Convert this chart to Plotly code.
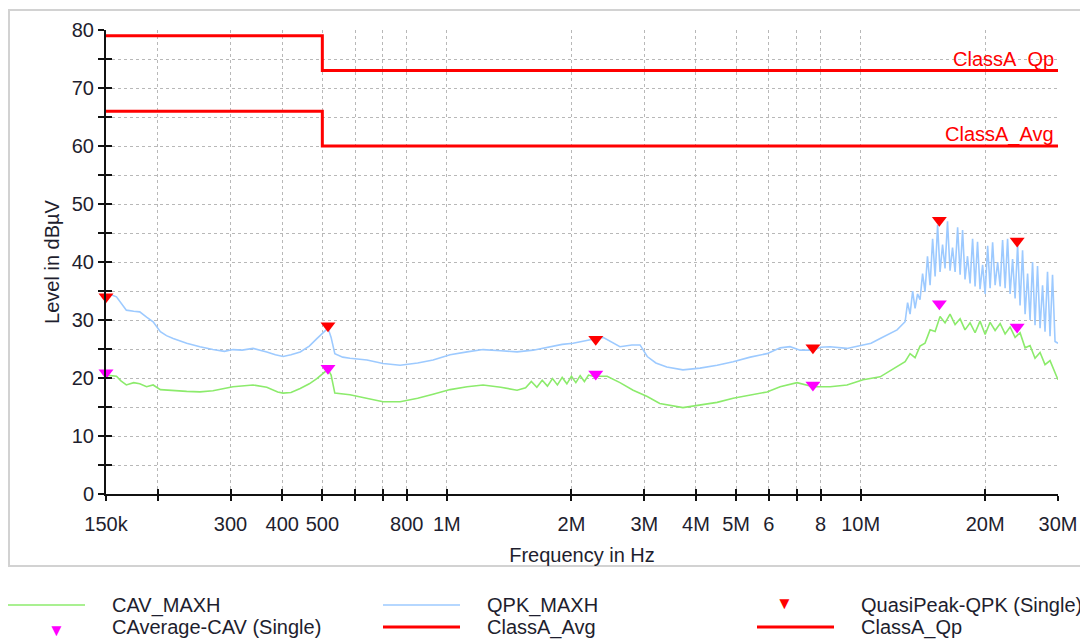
import plotly.graph_objects as go

# ---------------- data (frequencies in MHz, levels in dBµV) ----------------
qpk_freq = [0.150, 0.155, 0.159, 0.163, 0.168, 0.175, 0.181, 0.188, 0.195, 0.203,
            0.210, 0.218, 0.235, 0.253, 0.272, 0.290, 0.304, 0.320, 0.340, 0.367,
            0.385, 0.402, 0.420, 0.442, 0.465, 0.485, 0.507, 0.516, 0.525, 0.536,
            0.560, 0.583, 0.641, 0.701, 0.771, 0.850, 0.926, 1.018, 1.119, 1.223,
            1.350, 1.478, 1.616, 1.776, 1.900, 2.018, 2.181, 2.300, 2.385, 2.500,
            2.620, 2.800, 2.930, 3.050, 3.200, 3.400, 3.720, 4.090, 4.500, 4.920,
            5.410, 5.940, 6.390, 6.750, 7.140, 7.680, 8.000, 8.440, 9.270, 10.14,
            10.60, 11.15, 11.70, 12.25,
            12.81, 12.99, 13.17, 13.36, 13.54, 13.73, 13.92, 14.12, 14.31, 14.51,
            14.72, 14.93, 15.14, 15.35, 15.56, 15.78, 16.00, 16.22, 16.45, 16.68,
            16.92, 17.16, 17.40, 17.64, 17.88, 18.13, 18.39, 18.65, 18.91, 19.17,
            19.44, 19.72, 20.00, 20.28, 20.56, 20.85, 21.14, 21.44, 21.74, 22.04,
            22.35, 22.66, 22.98, 23.30, 23.63, 23.96, 24.29, 24.63, 24.98, 25.33,
            25.68, 26.04, 26.40, 26.77, 27.15, 27.53, 27.91, 28.30, 28.70, 29.10,
            29.51, 30.00]
qpk_level = [34.0, 34.3, 34.0, 33.0, 31.7, 31.5, 31.4, 30.5, 29.7, 28.0,
             27.3, 26.8, 26.0, 25.4, 24.9, 24.6, 24.9, 24.8, 25.1, 24.5,
             24.0, 23.7, 24.0, 24.5, 25.5, 26.8, 28.2, 28.6, 27.0, 24.2,
             23.6, 23.4, 23.1, 22.5, 22.2, 22.6, 23.1, 24.0, 24.5, 24.9,
             24.7, 24.5, 24.8, 25.4, 25.8, 26.0, 26.4, 26.8, 27.0, 26.2,
             25.4, 25.7, 25.7, 23.7, 22.6, 21.9, 21.4, 21.7, 22.2, 22.8,
             23.6, 24.2, 25.2, 25.4, 24.8, 24.8, 25.3, 25.4, 25.1, 25.7,
             26.0, 26.8, 27.5, 28.3,
             29.7, 33.0, 31.0, 35.0, 32.0, 34.5, 33.5, 38.0, 34.9, 41.0,
             36.0, 44.0, 37.5, 46.4, 38.3, 43.0, 38.9, 47.0, 38.5, 42.5,
             38.3, 46.0, 37.8, 45.5, 37.0, 41.0, 36.3, 44.0, 35.8, 43.5,
             35.3, 39.5, 34.5, 42.8, 35.5, 43.4, 36.0, 40.0, 35.8, 43.8,
             35.5, 44.0, 34.5, 40.5, 33.7, 43.0, 32.5, 42.0, 31.0, 38.0,
             30.0, 40.0, 29.1, 39.3, 28.6, 36.0, 28.0, 38.3, 27.2, 37.8,
             26.3, 26.0]

cav_freq = [0.150, 0.159, 0.163, 0.168, 0.175, 0.181, 0.188, 0.195, 0.203, 0.218,
            0.235, 0.253, 0.272, 0.304, 0.340, 0.367, 0.390, 0.402, 0.420, 0.442,
            0.465, 0.485, 0.507, 0.516, 0.525, 0.536, 0.583, 0.641, 0.701, 0.771,
            0.850, 0.926, 1.018, 1.119, 1.223, 1.350, 1.478,
            1.55, 1.60, 1.65, 1.70, 1.75, 1.80, 1.85, 1.90, 1.95, 2.00,
            2.05, 2.10, 2.15, 2.20,
            2.256, 2.440, 2.620, 2.820, 3.050, 3.270, 3.720, 4.090, 4.500, 4.920,
            5.410, 5.940, 6.390, 7.020, 7.680, 8.440, 9.270, 10.14, 11.15, 12.25,
            12.81, 13.17, 13.54, 13.92, 14.31, 14.72, 15.14, 15.56, 16.00, 16.45,
            16.92, 17.40, 17.88, 18.39, 18.91, 19.44, 20.00, 20.56, 21.14, 21.74,
            22.35, 22.98, 23.63, 24.29, 24.98, 25.68, 26.40, 27.15, 27.91, 28.70,
            29.51, 30.00]
cav_level = [20.5, 20.3, 19.5, 18.8, 19.2, 19.0, 18.5, 18.8, 18.0, 17.8,
             17.7, 17.6, 17.8, 18.5, 18.8, 18.4, 17.6, 17.4, 17.5, 18.2,
             19.0, 19.9, 21.0, 21.5, 20.5, 17.4, 17.1, 16.5, 15.9, 15.9,
             16.5, 17.2, 18.0, 18.5, 18.8, 18.4, 17.9,
             18.3, 19.4, 18.4, 19.6, 18.6, 19.9, 18.8, 20.1, 19.0, 20.3,
             19.2, 20.4, 19.4, 20.5,
             20.3, 20.3, 19.2, 17.9, 16.8, 15.6, 14.9, 15.3, 15.8, 16.5,
             17.0, 17.6, 18.5, 19.2, 18.5, 18.5, 18.8, 19.7, 20.2, 21.9,
             22.8, 24.2, 23.5, 25.5, 26.0, 28.3, 28.0, 30.6, 29.5, 31.0,
             29.2, 30.2, 28.3, 29.5, 27.8, 29.8, 27.5, 29.6, 28.2, 29.4,
             27.6, 28.8, 27.0, 27.8, 25.2, 25.6, 23.4, 24.4, 22.3, 23.0,
             20.8, 19.7]

qp_mark_freq = [0.150, 0.516, 2.29, 7.67, 15.5, 23.9]
qp_mark_level = [34.0, 29.0, 26.7, 25.2, 47.2, 43.6]
cav_mark_freq = [0.150, 0.516, 2.29, 7.67, 15.5, 23.9]
cav_mark_level = [20.9, 21.7, 20.7, 18.8, 32.8, 28.8]

limit_freq = [0.15, 0.5, 0.5, 30.0]
limit_qp = [79, 79, 73, 73]
limit_avg = [66, 66, 60, 60]

x_tick_mhz = [0.15, 0.2, 0.3, 0.4, 0.5, 0.6, 0.7, 0.8, 1, 2, 3, 4, 5, 6, 7, 8, 10, 20, 30]
x_tick_text = ["150k", "", "300", "400", "500", "", "", "800", "1M", "2M", "3M",
               "4M", "5M", "6", "", "8", "10M", "20M", "30M"]
y_tick_vals = list(range(0, 81, 5))
y_tick_text = [str(v) if v % 10 == 0 else "" for v in y_tick_vals]

# ---------------- styling ----------------
FONT = "Liberation Sans, Arial, sans-serif"
GREEN = "#8ceb6c"
BLUE = "#9dcaff"
RED = "#ff0000"
MAGENTA = "#ff00ff"
TXT = "#1e1e2e"
# page offset (browser body margin) is 8px
W, H = 1080, 636
ML, MT = 98, 22
PW, PH = 952, 464
MR, MB = W - ML - PW, H - MT - PH
PL, PB = 106, 494  # plot left / bottom on the page


def px(x):
    return (x - PL) / PW


def py(y):
    return (PB - y) / PH


hz = lambda arr: [v * 1e6 for v in arr]

fig = go.Figure()
fig.add_trace(go.Scatter(x=hz(cav_freq), y=cav_level, mode="lines",
                         line=dict(color=GREEN, width=1.6), name="CAV_MAXH"))
fig.add_trace(go.Scatter(x=hz(qpk_freq), y=qpk_level, mode="lines",
                         line=dict(color=BLUE, width=1.6), name="QPK_MAXH"))
fig.add_trace(go.Scatter(x=hz(limit_freq), y=limit_avg, mode="lines",
                         line=dict(color=RED, width=3), name="ClassA_Avg"))
fig.add_trace(go.Scatter(x=hz(limit_freq), y=limit_qp, mode="lines",
                         line=dict(color=RED, width=3), name="ClassA_Qp"))
fig.add_trace(go.Scatter(x=hz(qp_mark_freq), y=qp_mark_level, mode="markers",
                         marker=dict(symbol="triangle-down", size=13, color=RED),
                         name="QuasiPeak-QPK (Single)", cliponaxis=False))
fig.add_trace(go.Scatter(x=hz(cav_mark_freq), y=cav_mark_level, mode="markers",
                         marker=dict(symbol="triangle-down", size=13, color=MAGENTA),
                         name="CAverage-CAV (Single)", cliponaxis=False))
# helper axes for ticks crossing the axis lines
fig.add_trace(go.Scatter(x=[], y=[], xaxis="x2", yaxis="y2", showlegend=False))

xrange = [5.176091259, 7.477121255]
grid = dict(showgrid=True, gridcolor="#b8b8b8", gridwidth=1, griddash="3px,3px")
fig.update_layout(
    width=W, height=H,
    margin=dict(l=ML, r=MR, t=MT, b=MB),
    paper_bgcolor="white", plot_bgcolor="white",
    showlegend=False,
    font=dict(family=FONT, size=20, color=TXT),
    xaxis=dict(type="log", range=xrange, tickvals=hz(x_tick_mhz), ticktext=x_tick_text,
               ticks="outside", ticklen=5, tickwidth=1.5, tickcolor="#111",
               showline=True, linecolor="#111", linewidth=2, zeroline=False,
               ticklabelstandoff=6,
               title=dict(text="Frequency in Hz", standoff=14, font=dict(size=20)),
               **grid),
    yaxis=dict(range=[0, 80], tickvals=y_tick_vals, ticktext=y_tick_text,
               ticks="outside", ticklen=6, tickwidth=1.5, tickcolor="#111",
               showline=True, linecolor="#111", linewidth=2, zeroline=False,
               title=dict(text="Level in dBµV", standoff=7, font=dict(size=20)),
               **grid),
    xaxis2=dict(type="log", range=xrange, overlaying="x", side="bottom", anchor="y2",
                tickvals=hz(x_tick_mhz), showticklabels=False, ticks="inside", ticklen=5,
                tickwidth=1.5, tickcolor="#111", showgrid=False, zeroline=False, showline=False),
    yaxis2=dict(range=[0, 80], overlaying="y", side="left", anchor="x2",
                tickvals=y_tick_vals, showticklabels=False, ticks="inside", ticklen=6,
                tickwidth=1.5, tickcolor="#111", showgrid=False, zeroline=False, showline=False),
)

# outer frame
fig.add_shape(type="rect", xref="paper", yref="paper", x0=px(9), x1=px(1085),
              y0=py(566), y1=py(10), line=dict(color="#d2d2d2", width=2), layer="below")

# limit labels
fig.add_annotation(x=1, xref="paper", y=73, yref="y", text="ClassA_Qp", showarrow=False,
                   xanchor="right", yanchor="bottom", xshift=-2, yshift=-2,
                   font=dict(color=RED, size=20))
fig.add_annotation(x=1, xref="paper", y=60, yref="y", text="ClassA_Avg", showarrow=False,
                   xanchor="right", yanchor="bottom", xshift=-2, yshift=-2,
                   font=dict(color=RED, size=20))

# legend (manual, 3 columns x 2 rows), positions in page pixels
legend_items = [
    ("line", GREEN, 1.5, 8, 605, "CAV_MAXH", 0),
    ("line", BLUE, 1.5, 383, 605, "QPK_MAXH", 0),
    ("tri", RED, 0, 757, 605, "QuasiPeak-QPK (Single)", 10),
    ("tri", MAGENTA, 0, 8, 627, "CAverage-CAV (Single)", 15),
    ("line", RED, 3, 383, 627, "ClassA_Avg", 0),
    ("line", RED, 3, 757, 627, "ClassA_Qp", 0),
]
for kind, col, lw, x0, y0, label, dy in legend_items:
    if kind == "line":
        fig.add_shape(type="line", xref="paper", yref="paper", x0=px(x0), x1=px(x0 + 77),
                      y0=py(y0), y1=py(y0), line=dict(color=col, width=lw))
    else:
        fig.add_annotation(x=px(x0 + 38), y=py(y0 + dy), xref="paper", yref="paper",
                           text="▼", showarrow=False, font=dict(color=col, size=17))
    fig.add_annotation(x=px(x0 + 102), y=py(y0), xref="paper", yref="paper", text=label,
                       showarrow=False, xanchor="left", yanchor="middle",
                       font=dict(size=20, color=TXT))

fig.write_html("out.html")
